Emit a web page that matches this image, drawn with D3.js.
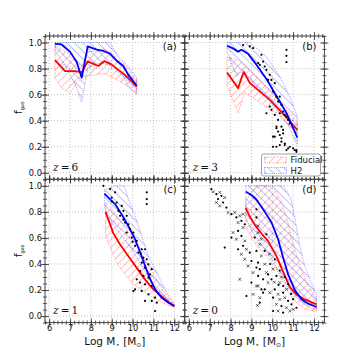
<!DOCTYPE html>
<html><head><meta charset="utf-8">
<script src="https://cdn.jsdelivr.net/npm/d3@7"></script>
<style>body{margin:0;background:#fff} svg{display:block;font-family:"DejaVu Sans",sans-serif}</style>
</head><body><div id="chart"></div>
<script>
// axis ranges and tick values
const xDomain = [5.8, 12.5], yDomain = [-0.05, 1.05];
const xMajor = [6, 7, 8, 9, 10, 11, 12];
const yMajor = [0, 0.2, 0.4, 0.6, 0.8, 1.0];
const panelNames = ["(a)", "(b)", "(c)", "(d)"];
const redshifts = ["6", "3", "1", "0"];
const legendLabels = ["Fiducial", "H2"];

// z = 6
const fidMedA = [[6.28,0.865],[6.76,0.78],[7.24,0.78],[7.56,0.77],[7.85,0.855],[8.36,0.82],[8.64,0.857],[9.0,0.83],[9.32,0.79],[9.64,0.75],[9.96,0.70],[10.2,0.66]];
const fidHiA = [[6.28,0.98],[6.76,0.93],[7.24,0.86],[7.56,0.82],[7.85,0.93],[8.36,0.93],[8.64,0.95],[9.0,0.92],[9.32,0.87],[9.64,0.83],[9.96,0.76],[10.2,0.72]];
const fidLoA = [[6.28,0.73],[6.6,0.65],[7.0,0.61],[7.32,0.69],[7.64,0.74],[8.2,0.75],[8.6,0.765],[8.92,0.74],[9.4,0.70],[9.88,0.65],[10.2,0.6]];
const h2MedA = [[6.28,0.99],[6.6,0.985],[7.0,0.93],[7.32,0.85],[7.56,0.73],[7.85,0.97],[8.28,0.945],[8.6,0.935],[8.92,0.915],[9.24,0.86],[9.56,0.82],[9.8,0.75],[10.2,0.67]];
const h2HiA = [[6.28,1.0],[8.92,1.0],[9.32,0.89],[9.8,0.815],[10.2,0.73]];
const h2LoA = [[6.28,0.94],[6.6,0.86],[7.0,0.76],[7.32,0.65],[7.56,0.545],[7.85,0.80],[8.28,0.84],[8.6,0.84],[8.92,0.82],[9.24,0.78],[9.56,0.74],[9.8,0.66],[10.2,0.61]];

// z = 3
const fidMedB = [[7.83,0.77],[8.36,0.65],[8.63,0.775],[8.92,0.69],[9.4,0.625],[9.88,0.56],[10.36,0.48],[10.76,0.41],[11.2,0.33]];
const fidHiB = [[7.83,0.89],[8.44,0.86],[8.92,0.79],[9.72,0.66],[10.52,0.51],[11.2,0.39]];
const fidLoB = [[7.83,0.67],[8.36,0.46],[8.68,0.62],[9.56,0.52],[10.2,0.457],[10.68,0.38],[11.2,0.31]];
const h2MedB = [[7.83,0.975],[8.12,0.955],[8.36,0.93],[8.52,0.944],[8.84,0.913],[9.24,0.83],[9.72,0.72],[10.2,0.59],[10.68,0.46],[11.2,0.27]];
const h2HiB = [[7.83,1.0],[8.92,1.0],[9.72,0.89],[10.36,0.74],[10.84,0.585],[11.2,0.43]];
const h2LoB = [[7.83,0.93],[8.28,0.74],[8.6,0.79],[9.08,0.69],[9.72,0.585],[10.28,0.47],[10.76,0.367],[11.2,0.21]];
const obsB = [[8.6,0.98],[8.92,0.97],[9.08,0.957],[9.48,0.906],[9.56,0.854],[9.32,0.842],[9.4,0.829],[9.64,0.816],[9.72,0.79],[9.88,0.752],[9.8,0.713],[9.96,0.713],[10.12,0.688],[10.04,0.624],[10.2,0.585],[10.36,0.585],[10.28,0.547],[10.44,0.521],[9.88,0.508],[9.96,0.483],[9.72,0.457],[10.12,0.444],[10.36,0.457],[10.52,0.47],[10.6,0.444],[10.28,0.406],[10.68,0.431],[10.76,0.406],[10.84,0.38],[10.44,0.354],[10.2,0.342],[10.28,0.316],[10.52,0.329],[10.36,0.29],[10.44,0.265],[10.12,0.277],[10.44,0.239],[10.04,0.2],[10.36,0.213],[10.6,0.213],[10.76,0.188],[10.84,0.2],[11.0,0.188],[11.16,0.175],[10.68,0.944],[10.68,0.898],[10.68,0.85],[10.2,0.354],[10.52,0.302],[10.04,0.277],[10.6,0.225],[10.2,0.2],[10.68,0.174],[11.08,0.174],[11.16,0.161]];

// z = 1
const fidMedC = [[8.7,0.80],[8.84,0.74],[9.08,0.635],[9.4,0.55],[9.8,0.46],[10.2,0.37],[10.6,0.28],[11.0,0.205],[11.4,0.15],[11.72,0.108],[12.0,0.075]];
const fidHiC = [[8.7,0.87],[9.0,0.82],[9.5,0.71],[10.0,0.6],[10.5,0.45],[11.0,0.32],[11.5,0.19],[12.0,0.09]];
const fidLoC = [[8.7,0.62],[8.76,0.59],[9.32,0.385],[9.96,0.257],[10.6,0.18],[11.24,0.116],[12.0,0.064]];
const h2MedC = [[8.65,0.94],[8.84,0.91],[9.16,0.86],[9.48,0.78],[9.8,0.69],[10.12,0.59],[10.36,0.49],[10.6,0.385],[10.84,0.285],[11.08,0.205],[11.4,0.14],[11.72,0.103],[12.0,0.077]];
const h2HiC = [[8.65,0.97],[9.2,1.0],[9.6,1.0],[9.8,0.9],[10.12,0.77],[10.44,0.616],[10.76,0.462],[11.16,0.334],[11.56,0.205],[12.0,0.09]];
const h2LoC = [[8.65,0.84],[9.0,0.718],[9.48,0.616],[9.96,0.513],[10.44,0.385],[10.92,0.257],[11.4,0.167],[12.0,0.077]];
const obsC = [[8.6,1.0],[8.92,0.975],[9.0,0.91],[9.24,0.872],[9.48,0.846],[9.32,0.808],[9.56,0.808],[9.4,0.77],[9.72,0.77],[9.64,0.718],[9.8,0.705],[9.88,0.667],[10.04,0.641],[9.72,0.641],[9.96,0.603],[10.2,0.577],[10.12,0.539],[10.44,0.513],[10.6,0.513],[10.28,0.487],[10.52,0.449],[10.68,0.436],[10.44,0.41],[10.76,0.398],[10.6,0.372],[10.92,0.36],[10.36,0.346],[10.52,0.308],[10.76,0.295],[10.2,0.282],[10.36,0.257],[10.6,0.244],[10.92,0.231],[10.12,0.205],[10.44,0.193],[10.76,0.167],[11.08,0.141],[10.92,0.116],[11.16,0.103],[10.6,0.116],[11.08,0.039],[10.68,0.898],[10.68,0.86],[10.68,0.95],[9.16,0.95],[9.0,0.88],[9.56,0.74],[10.0,0.57],[10.4,0.48],[10.84,0.32],[10.04,0.192]];

// z = 0
const fidMedD = [[8.73,0.83],[8.9,0.77],[9.16,0.70],[9.5,0.63],[9.8,0.575],[10.2,0.46],[10.52,0.34],[10.84,0.225],[11.16,0.165],[11.56,0.128],[12.12,0.09]];
const fidHiD = [[8.73,0.88],[9.0,0.95],[9.24,1.0],[9.8,1.0],[10.12,0.97],[10.44,0.88],[10.7,0.75],[10.92,0.6],[11.3,0.4],[11.7,0.24],[12.12,0.13]];
const fidLoD = [[8.73,0.68],[9.24,0.54],[9.72,0.46],[10.2,0.36],[10.68,0.205],[11.16,0.10],[11.64,0.05],[12.12,0.038]];
const h2MedD = [[8.73,0.955],[9.0,0.93],[9.24,0.895],[9.64,0.80],[9.96,0.72],[10.28,0.59],[10.52,0.45],[10.76,0.32],[11.08,0.2],[11.4,0.13],[11.72,0.095],[12.12,0.07]];
const h2HiD = [[8.73,1.0],[10.55,1.0],[10.9,0.9],[11.1,0.74],[11.3,0.55],[11.55,0.39],[11.85,0.26],[12.12,0.17]];
const h2LoD = [[8.73,0.75],[9.0,0.66],[9.4,0.565],[9.88,0.46],[10.36,0.335],[10.84,0.205],[11.32,0.115],[11.8,0.065],[12.12,0.05]];
const obsD = [[7.08,0.975],[7.32,0.936],[7.56,0.923],[7.4,0.898],[7.64,0.872],[7.8,0.833],[8.04,0.782],[8.28,0.757],[8.52,0.731],[8.68,0.705],[8.36,0.654],[8.04,0.603],[8.52,0.615],[8.6,0.539],[8.36,0.513],[8.92,0.487],[9.0,0.423],[7.72,0.526],[9.24,0.372],[9.32,0.308],[9.0,0.257],[9.48,0.205],[8.76,0.154],[9.56,0.18],[9.24,0.757],[9.16,0.603],[9.24,0.5],[9.32,0.41],[9.4,0.36],[9.56,0.282],[9.96,0.282],[9.64,0.205],[10.12,0.205],[10.04,0.141],[10.52,0.18],[10.76,0.116],[10.44,0.077],[10.92,0.09],[10.52,0.026],[9.8,0.32],[10.2,0.308],[10.52,0.231],[10.76,0.244],[10.12,0.436],[9.64,0.5],[9.72,0.628],[9.24,0.82],[9.4,0.103],[10.04,0.039],[11.16,0.064],[10.36,0.35],[10.6,0.3],[10.9,0.17],[11.0,0.13],[10.3,0.24],[9.9,0.4]];
const obsDx = [[7.16,0.954],[7.48,0.949],[7.72,0.91],[7.48,0.846],[7.32,0.872],[7.88,0.795],[8.2,0.795],[8.44,0.77],[8.6,0.782],[8.36,0.718],[8.6,0.68],[8.12,0.641],[8.28,0.59],[8.68,0.577],[8.76,0.513],[8.52,0.475],[8.68,0.436],[8.84,0.385],[9.08,0.334],[8.44,0.282],[9.24,0.231],[9.08,0.167],[9.4,0.141],[9.32,0.692],[9.4,0.552],[9.48,0.462],[9.64,0.398],[9.72,0.334],[9.8,0.257],[9.32,0.231],[9.88,0.18],[10.28,0.167],[10.36,0.128],[10.6,0.141],[10.2,0.09],[10.68,0.064],[10.28,0.039],[10.84,0.039],[10.04,0.36],[10.36,0.257],[10.68,0.205],[9.88,0.475],[9.48,0.59],[9.32,0.641],[9.29,0.082],[11.0,0.051],[10.44,0.3],[10.1,0.26]];

const panels = [
  {col:0,row:0, fid:[fidMedA,fidLoA,fidHiA], h2:[h2MedA,h2LoA,h2HiA], obs:[], obsX:[]},
  {col:1,row:0, fid:[fidMedB,fidLoB,fidHiB], h2:[h2MedB,h2LoB,h2HiB], obs:obsB, obsX:[]},
  {col:0,row:1, fid:[fidMedC,fidLoC,fidHiC], h2:[h2MedC,h2LoC,h2HiC], obs:obsC, obsX:[]},
  {col:1,row:1, fid:[fidMedD,fidLoD,fidHiD], h2:[h2MedD,h2LoD,h2HiD], obs:obsD, obsX:obsDx}
];

const W = 360, H = 360;
const padLeft = 45, padTop = 36, pw = 139.7, ph = 143.3;
const red = "#ff0000", blue = "#0000ff";

const svg = d3.select("#chart").append("svg").attr("width", W).attr("height", H);
const defs = svg.append("defs");

function hatch(id, color, angle) {
  const p = defs.append("pattern").attr("id", id)
    .attr("patternUnits", "userSpaceOnUse").attr("width", 5.5).attr("height", 5.5)
    .attr("patternTransform", `rotate(${angle})`);
  p.append("line").attr("x1", 0).attr("y1", 0).attr("x2", 0).attr("y2", 5.5)
    .attr("stroke", color).attr("stroke-width", 0.7).attr("stroke-opacity", 0.7);
}
hatch("hRed", red, 45);
hatch("hBlue", blue, -45);

function range(a, b, s) { return d3.range(Math.round((b - a) / s) + 1).map(i => +(a + i * s).toFixed(3)); }
const xMinor = range(5.8, 12.4, 0.2);
const yMinor = range(-0.05, 1.05, 0.05);

function axis(g, orient, scale, pos, values, len, fmt) {
  const gen = {bottom: d3.axisBottom, top: d3.axisTop, left: d3.axisLeft, right: d3.axisRight}[orient](scale)
    .tickValues(values).tickSize(len).tickPadding(2).tickFormat(fmt || (() => ""));
  const horiz = orient === "bottom" || orient === "top";
  const a = g.append("g").attr("transform", horiz ? `translate(0,${pos})` : `translate(${pos},0)`).call(gen);
  a.select(".domain").remove();
  a.attr("font-family", null).attr("font-size", null);
  const lines = a.selectAll(".tick line").attr("stroke", "#333").attr("stroke-width", 0.8);
  if (orient === "bottom") lines.attr("y1", -len);
  if (orient === "top") lines.attr("y1", len);
  if (orient === "left") lines.attr("x1", len);
  if (orient === "right") lines.attr("x1", -len);
  a.selectAll(".tick text").attr("fill", "#111").style("font-size", "8.3px");
  return a;
}

panels.forEach((p, i) => {
  const x0 = padLeft + p.col * pw, y0 = padTop + p.row * ph;
  const x = d3.scaleLinear().domain(xDomain).range([x0, x0 + pw]);
  const y = d3.scaleLinear().domain(yDomain).range([y0 + ph, y0]);
  const g = svg.append("g");

  defs.append("clipPath").attr("id", "clip" + i)
    .append("rect").attr("x", x0).attr("y", y0).attr("width", pw).attr("height", ph);
  const inner = g.append("g").attr("clip-path", `url(#clip${i})`);

  // grid
  inner.selectAll(".gx").data(xMajor).enter().append("line")
    .attr("x1", d => x(d)).attr("x2", d => x(d)).attr("y1", y0).attr("y2", y0 + ph)
    .attr("stroke", "#aaa").attr("stroke-width", 0.7).attr("stroke-dasharray", "1,2");
  inner.selectAll(".gy").data(yMajor).enter().append("line")
    .attr("x1", x0).attr("x2", x0 + pw).attr("y1", d => y(d)).attr("y2", d => y(d))
    .attr("stroke", "#aaa").attr("stroke-width", 0.7).attr("stroke-dasharray", "1,2");

  const line = d3.line().x(d => x(d[0])).y(d => y(d[1]));
  const band = (lo, hi) => line(hi.concat(lo.slice().reverse())) + "Z";

  inner.append("path").attr("d", band(p.fid[1], p.fid[2]))
    .attr("fill", "url(#hRed)").attr("stroke", red).attr("stroke-opacity", 0.6)
    .attr("stroke-width", 0.7).attr("stroke-dasharray", "1,1.2");
  inner.append("path").attr("d", band(p.h2[1], p.h2[2]))
    .attr("fill", "url(#hBlue)").attr("stroke", blue).attr("stroke-opacity", 0.6)
    .attr("stroke-width", 0.7).attr("stroke-dasharray", "1,1.2");
  inner.append("path").attr("d", line(p.fid[0])).attr("fill", "none")
    .attr("stroke", red).attr("stroke-width", 1.8).attr("stroke-linejoin", "round");
  inner.append("path").attr("d", line(p.h2[0])).attr("fill", "none")
    .attr("stroke", blue).attr("stroke-width", 1.8).attr("stroke-linejoin", "round");

  inner.selectAll(".obs").data(p.obs).enter().append("circle")
    .attr("cx", d => x(d[0])).attr("cy", d => y(d[1])).attr("r", 1.1).attr("fill", "#000");
  inner.selectAll(".obsx").data(p.obsX).enter().append("path")
    .attr("d", d => `M${x(d[0]) - 1.4},${y(d[1]) - 1.4}L${x(d[0]) + 1.4},${y(d[1]) + 1.4}M${x(d[0]) - 1.4},${y(d[1]) + 1.4}L${x(d[0]) + 1.4},${y(d[1]) - 1.4}`)
    .attr("stroke", "#222").attr("stroke-width", 0.7);

  // ticks on all four sides
  const xf = p.row === 1 ? d3.format("d") : null;
  const yf = p.col === 0 ? d3.format(".1f") : null;
  const bx = axis(g, "bottom", x, y0 + ph, xMajor, 4, xf);
  bx.selectAll(".tick text").attr("y", 3).attr("dy", "0.71em");
  axis(g, "bottom", x, y0 + ph, xMinor, 2);
  axis(g, "top", x, y0, xMajor, 4);
  axis(g, "top", x, y0, xMinor, 2);
  const ly = axis(g, "left", y, x0, yMajor, 4, yf);
  ly.selectAll(".tick text").attr("x", -3);
  axis(g, "left", y, x0, yMinor, 2);
  axis(g, "right", y, x0 + pw, yMajor, 4);
  axis(g, "right", y, x0 + pw, yMinor, 2);

  g.append("rect").attr("x", x0).attr("y", y0).attr("width", pw).attr("height", ph)
    .attr("fill", "none").attr("stroke", "#444").attr("stroke-width", 1);

  g.append("text").attr("x", x0 + pw - 8).attr("y", y0 + 14).attr("text-anchor", "end")
    .style("font-size", "10px").attr("fill", "#111").text(panelNames[i]);

  const zt = g.append("text").attr("x", x0 + 8).attr("y", y0 + ph - 8.5)
    .style("font-family", "'DejaVu Serif', serif").style("font-size", "10.5px").attr("fill", "#111");
  zt.append("tspan").style("font-style", "italic").text("z");
  zt.append("tspan").text("\u2009=\u2009" + redshifts[i]);

  if (p.col === 0) {
    const t = g.append("text").attr("transform", `translate(22,${y0 + ph / 2}) rotate(-90)`)
      .attr("text-anchor", "middle").style("font-size", "10.5px").attr("fill", "#111");
    t.append("tspan").text("f");
    t.append("tspan").attr("dy", 2).style("font-size", "5px").text("gas");
  }
  if (p.row === 1) {
    const t = g.append("text").attr("x", x0 + pw / 2).attr("y", 345)
      .attr("text-anchor", "middle").style("font-size", "10.5px").attr("fill", "#111");
    t.append("tspan").text("Log M");
    t.append("tspan").attr("dy", 2).style("font-size", "7px").text("\u22c6");
    t.append("tspan").attr("dy", -2).text(" [M");
    t.append("tspan").attr("dy", 2).style("font-size", "6px").text("\u2299");
    t.append("tspan").attr("dy", -2).text("]");
  }
});

// legend in panel (b)
const lg = svg.append("g").attr("transform", "translate(261.5,154)");
lg.append("rect").attr("width", 59).attr("height", 22).attr("rx", 2)
  .attr("fill", "#fff").attr("stroke", "#888").attr("stroke-width", 0.8);
[["url(#hRed)", red], ["url(#hBlue)", blue]].forEach((s, j) => {
  lg.append("rect").attr("x", 3).attr("y", 3 + j * 10.5).attr("width", 22).attr("height", 6)
    .attr("fill", s[0]).attr("stroke", s[1]).attr("stroke-opacity", 0.6)
    .attr("stroke-width", 0.7).attr("stroke-dasharray", "1,1.2");
  lg.append("text").attr("x", 29).attr("y", 9 + j * 10.5)
    .style("font-size", "8.5px").attr("fill", "#111").text(legendLabels[j]);
});
</script>
</body></html>
